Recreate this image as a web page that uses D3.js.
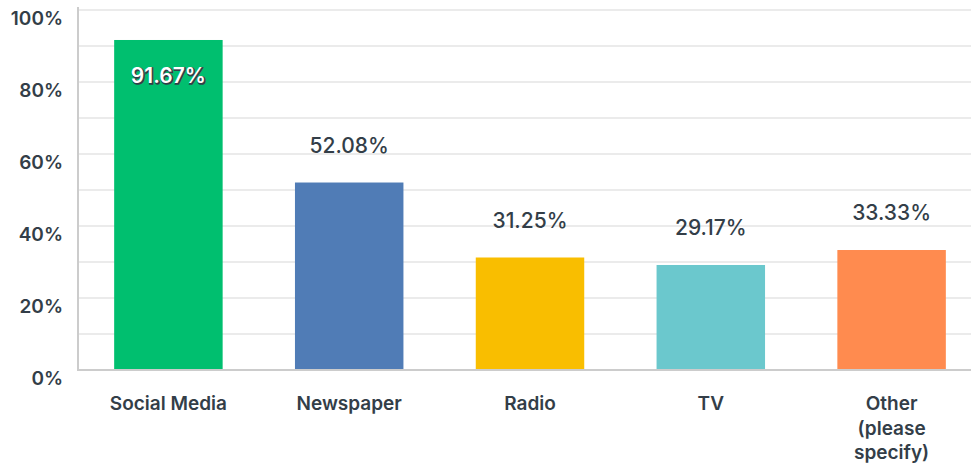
<!DOCTYPE html>
<html>
<head>
<meta charset="utf-8">
<script src="https://cdn.jsdelivr.net/npm/d3@7"></script>
<style>
  html, body { margin: 0; padding: 0; background: #fff; }
  svg { display: block; }
  text { font-family: Inter, "Open Sans", "DejaVu Sans", sans-serif; fill: #333e48; }
</style>
</head>
<body>
<svg id="chart" width="971" height="466"></svg>
<script>
const categories = ["Social Media", "Newspaper", "Radio", "TV", "Other (please specify)"];
const values = [91.67, 52.08, 31.25, 29.17, 33.33];
const colors = ["#00bf6f", "#507cb6", "#f9be00", "#6bc8cd", "#ff8b4f"];
const yTicks = [0, 20, 40, 60, 80, 100];
const gridTicks = [10, 20, 30, 40, 50, 60, 70, 80, 90, 100];

const svg = d3.select("#chart");
const x0 = 78, x1 = 982, yBase = 370, yTop = 10;

const x = d3.scaleBand().domain(categories).range([x0, x1]).paddingInner(0.4).paddingOuter(0.2);
const y = d3.scaleLinear().domain([0, 100]).range([yBase, yTop]);

// gridlines
svg.append("g").selectAll("line").data(gridTicks).join("line")
  .attr("x1", x0).attr("x2", 971)
  .attr("y1", d => y(d)).attr("y2", d => y(d))
  .attr("stroke", "#ebebeb").attr("stroke-width", 2);

// y axis labels
const yAxis = d3.axisLeft(y).tickValues(yTicks).tickFormat(d => d + "%").tickSize(0).tickPadding(15);
const gy = svg.append("g").attr("transform", `translate(${x0},8)`).call(yAxis);
gy.select(".domain").remove();
gy.selectAll("text").style("font-family", "Inter, sans-serif")
  .style("font-size", "19px").style("font-weight", 600).attr("fill", "#333e48");

// bars
svg.append("g").selectAll("rect").data(values).join("rect")
  .attr("x", (d, i) => x(categories[i]))
  .attr("width", x.bandwidth())
  .attr("y", d => y(d))
  .attr("height", d => yBase - y(d))
  .attr("fill", (d, i) => colors[i]);

// axes lines
svg.append("line").attr("x1", x0).attr("x2", x0).attr("y1", 7).attr("y2", yBase + 1)
  .attr("stroke", "#cccccc").attr("stroke-width", 2);
svg.append("line").attr("x1", x0 - 1).attr("x2", 971).attr("y1", yBase).attr("y2", yBase)
  .attr("stroke", "#cccccc").attr("stroke-width", 2);

// value labels
values.forEach((v, i) => {
  const cx = x(categories[i]) + x.bandwidth() / 2;
  const inside = y(v) - 30 < 20;
  const by = inside ? y(v) + 43 : y(v) - 30;
  const txt = v.toFixed(2) + "%";
  if (inside) {
    svg.append("text").attr("x", cx + 1).attr("y", by + 1).attr("text-anchor", "middle")
      .style("font-size", "21px").style("font-weight", 600)
      .style("fill", "#333e48")
      .attr("stroke", "#333e48").attr("stroke-width", 1.5).text(txt);
    svg.append("text").attr("x", cx).attr("y", by).attr("text-anchor", "middle")
      .style("font-size", "21px").style("font-weight", 600).style("fill", "#ffffff").text(txt);
  } else {
    svg.append("text").attr("x", cx).attr("y", by).attr("text-anchor", "middle")
      .style("font-size", "21px").style("font-weight", 500).text(txt);
  }
});

// x labels with wrapping
const maxW = 100;
categories.forEach((c, i) => {
  const cx = x(c) + x.bandwidth() / 2;
  const t = svg.append("text").attr("x", cx).attr("y", 410).attr("text-anchor", "middle")
    .style("font-size", "19px").style("font-weight", 600);
  const words = c.split(" ");
  let lines = [], cur = "";
  const meas = svg.append("text").style("font-size", "19px").style("font-weight", 600);
  words.forEach(w => {
    const test = cur ? cur + " " + w : w;
    meas.text(test);
    if (meas.node().getComputedTextLength() > maxW && cur) { lines.push(cur); cur = w; }
    else cur = test;
  });
  lines.push(cur);
  meas.remove();
  if (c === "Social Media") lines = ["Social Media"];
  lines.forEach((l, k) => t.append("tspan").attr("x", cx).attr("dy", k === 0 ? 0 : 24.5).text(l));
});
</script>
</body>
</html>
